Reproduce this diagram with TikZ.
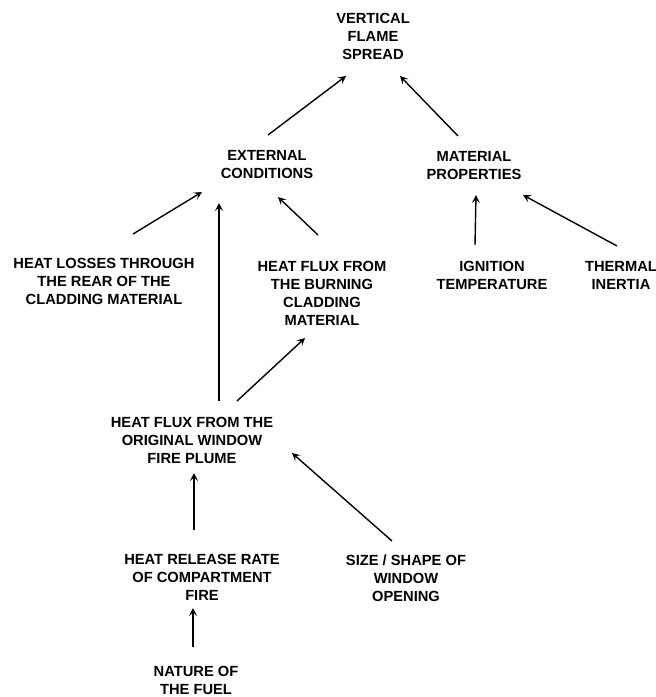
\documentclass[tikz,border=0pt]{standalone}
\usepackage{fontspec}
\setmainfont{Liberation Sans}
\usetikzlibrary{arrows.meta}

\tikzset{
	factor/.style={align=center, inner sep=0pt, font=\fontsize{14.7}{18}\selectfont\bfseries},
	link/.style={-{Stealth[length=8pt,width=8pt,inset=3.5pt]}, line width=1.4pt}
}

\begin{document}
\begin{tikzpicture}[x=1pt,y=-1pt]
	\useasboundingbox (0,0) rectangle (656,697);

	% top of the tree
	\node[factor] (vfs) at (373,36) {VERTICAL\\FLAME\\SPREAD};
	\node[factor] (ext) at (267,165) {EXTERNAL\\CONDITIONS};
	\node[factor] (mat) at (474,166) {MATERIAL\\PROPERTIES};

	% second row
	\node[factor] (loss) at (104,281) {HEAT LOSSES THROUGH\\THE REAR OF THE\\CLADDING MATERIAL};
	\node[factor] (hfb) at (322,293) {HEAT FLUX FROM\\THE BURNING\\CLADDING\\MATERIAL};
	\node[factor] (ign) at (492,275) {IGNITION\\TEMPERATURE};
	\node[factor] (therm) at (621,275) {THERMAL\\INERTIA};

	% plume and below
	\node[factor] (hfo) at (192,440) {HEAT FLUX FROM THE\\ORIGINAL WINDOW\\FIRE PLUME};
	\node[factor] (hrr) at (202,577) {HEAT RELEASE RATE\\OF COMPARTMENT\\FIRE};
	\node[factor] (size) at (406,578) {SIZE / SHAPE OF\\WINDOW\\OPENING};
	\node[factor] (fuel) at (196,680) {NATURE OF\\THE FUEL};

	% draw edges
	\foreach \a/\ax/\ay/\b/\bx/\by in {
		ext/1/30/vfs/-27/-40,
		mat/-16/30/vfs/27/-40,
		loss/29/47/ext/-65/-27,
		hfo/27/39/ext/-48/-38,
		hfb/-4/58/ext/11/-32,
		hfo/45/39/hfb/-17/-45,
		ign/-17/30/mat/2/-29,
		therm/-4/29/mat/49/-29,
		hrr/-8/47/hfo/2/-33,
		size/-14/37/hfo/100/-13,
		fuel/-3/33/hrr/-9/-31}
	{
		\draw[link] ([xshift=\ax pt,yshift=\ay pt]\a.center) -- ([xshift=\bx pt,yshift=\by pt]\b.center);
	}

\end{tikzpicture}
\end{document}
